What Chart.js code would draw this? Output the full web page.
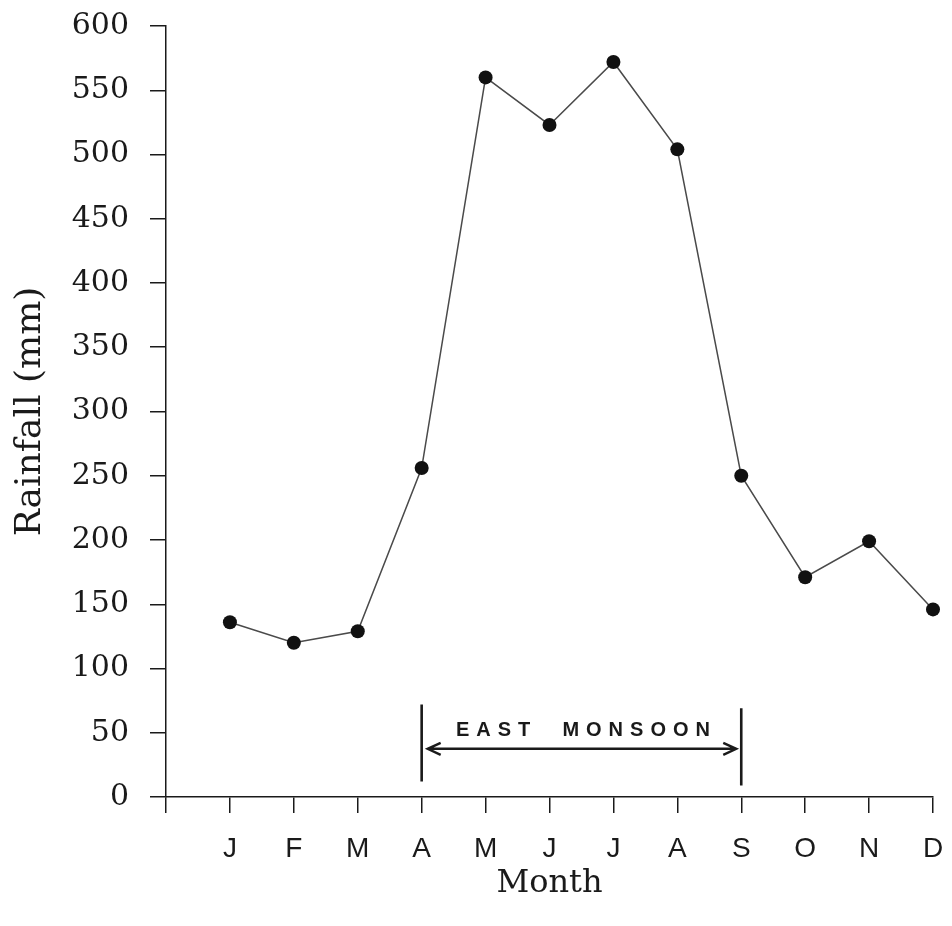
<!DOCTYPE html>
<html lang="en">
<head>
    <meta charset="UTF-8">
    <title>Rainfall by Month</title>
    <script src="https://cdn.jsdelivr.net/npm/chart.js"></script>
    <style>
        body {
            margin: 0;
            background: #fff;
        }

        #wrap {
            width: 952px;
            height: 926px;
        }
    </style>
</head>
<body>
    <div id="wrap">
        <canvas id="rainChart"></canvas>
    </div>

    <script>
        // monthly rainfall
        const months = ['J', 'F', 'M', 'A', 'M', 'J', 'J', 'A', 'S', 'O', 'N', 'D'];
        const rainfall = [136, 120, 129, 256, 560, 523, 572, 504, 250, 171, 199, 146];
        const yMin = 0;
        const yMax = 600;
        const yStep = 50;

        // east monsoon spans April .. September (1-based month positions)
        const monsoonLabel = 'EAST MONSOON';
        const monsoonFrom = 4;
        const monsoonTo = 9;

        const points = months.map((m, i) => ({ x: i + 1, y: rainfall[i] }));

        const serif = 'DejaVu Serif';
        const sans = 'Liberation Sans';
        const ink = '#1a1a1a';

        const monsoonPlugin = {
            id: 'monsoon',
            afterDatasetsDraw(chart) {
                const ctx = chart.ctx;
                const xs = chart.scales.x;
                const ys = chart.scales.y;
                const xa = xs.getPixelForValue(monsoonFrom);
                const xb = xs.getPixelForValue(monsoonTo);
                const ay = ys.getPixelForValue(37.5);

                ctx.save();
                ctx.strokeStyle = ink;
                ctx.lineWidth = 2.6;
                ctx.lineCap = 'butt';

                // bracket bars
                ctx.beginPath();
                ctx.moveTo(xa, ys.getPixelForValue(72));
                ctx.lineTo(xa, ys.getPixelForValue(12));
                ctx.moveTo(xb, ys.getPixelForValue(69));
                ctx.lineTo(xb, ys.getPixelForValue(9));
                ctx.stroke();

                // double arrow
                const l = xa + 6;
                const r = xb - 5;
                ctx.lineWidth = 2.4;
                ctx.beginPath();
                ctx.moveTo(l, ay);
                ctx.lineTo(r, ay);
                ctx.moveTo(l + 13, ay - 6);
                ctx.lineTo(l, ay);
                ctx.lineTo(l + 13, ay + 6);
                ctx.moveTo(r - 13, ay - 6);
                ctx.lineTo(r, ay);
                ctx.lineTo(r - 13, ay + 6);
                ctx.stroke();

                // label
                ctx.fillStyle = ink;
                ctx.font = 'bold 20px "' + sans + '"';
                ctx.letterSpacing = '7px';
                ctx.textAlign = 'center';
                ctx.textBaseline = 'middle';
                const words = monsoonLabel.split(' ');
                ctx.fillText(words.join('  '), (xa + xb) / 2 + 5, ys.getPixelForValue(52));
                ctx.restore();
            }
        };

        const ctx = document.getElementById('rainChart').getContext('2d');
        const rainChart = new Chart(ctx, {
            type: 'line',
            data: {
                datasets: [{
                    label: 'Rainfall',
                    data: points,
                    borderColor: '#4a4a4a',
                    borderWidth: 1.5,
                    pointRadius: 7,
                    pointHoverRadius: 7,
                    pointBackgroundColor: '#111',
                    pointBorderColor: '#111',
                    pointBorderWidth: 0,
                    tension: 0,
                    clip: false
                }]
            },
            options: {
                responsive: true,
                maintainAspectRatio: false,
                animation: false,
                layout: {
                    padding: { top: 26, right: 19, left: 0, bottom: 0 }
                },
                plugins: {
                    legend: { display: false },
                    tooltip: { enabled: false }
                },
                scales: {
                    x: {
                        type: 'linear',
                        min: 0,
                        max: months.length,
                        afterFit: s => {
                            s.height = 129;
                            s.paddingLeft = 0;
                            s.paddingRight = 0;
                        },
                        afterBuildTicks: s => {
                            s.ticks = [];
                            for (let i = 0; i <= months.length; i++) s.ticks.push({ value: i });
                        },
                        ticks: {
                            stepSize: 1,
                            autoSkip: false,
                            maxRotation: 0,
                            padding: 19,
                            color: ink,
                            font: { family: sans, size: 28 },
                            callback: v => (v >= 1 ? months[v - 1] : '')
                        },
                        grid: {
                            drawOnChartArea: false,
                            tickLength: 16,
                            color: ink,
                            lineWidth: 1.5
                        },
                        border: { color: ink, width: 1.5 },
                        title: {
                            display: true,
                            text: 'Month',
                            color: ink,
                            font: { family: serif, size: 32 },
                            padding: { top: 0, bottom: 23 }
                        }
                    },
                    y: {
                        min: yMin,
                        max: yMax,
                        afterFit: s => {
                            s.width = 166;
                            s.paddingTop = 0;
                            s.paddingBottom = 0;
                        },
                        ticks: {
                            stepSize: yStep,
                            padding: 21,
                            color: ink,
                            font: { family: serif, size: 30 }
                        },
                        grid: {
                            drawOnChartArea: false,
                            tickLength: 16,
                            color: ink,
                            lineWidth: 1.5
                        },
                        border: { color: ink, width: 1.5 },
                        title: {
                            display: true,
                            text: 'Rainfall (mm)',
                            color: ink,
                            font: { family: serif, size: 36 },
                            padding: { top: 9, bottom: 0 }
                        }
                    }
                }
            },
            plugins: [monsoonPlugin]
        });
    </script>
</body>
</html>
